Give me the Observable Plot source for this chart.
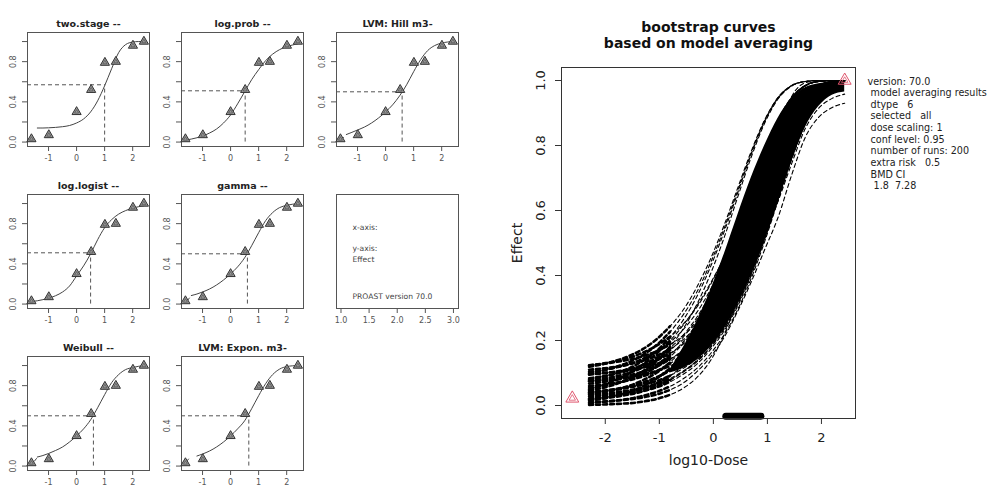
<!DOCTYPE html>
<html><head><meta charset="utf-8">
<script src="https://cdn.jsdelivr.net/npm/d3@7"></script>
<script src="https://cdn.jsdelivr.net/npm/@observablehq/plot@0.6"></script>
<style>
body{margin:0;background:#fff;}
#root{position:relative;width:990px;height:487px;overflow:hidden;background:#fff;}
#root svg{position:absolute;overflow:visible;}
</style></head><body><div id="root"></div>
<script>
// ---------- small panels: data ----------
const doseLog = [-1.61, -0.99, 0, 0.52, 1.01, 1.40, 2.01, 2.40];
const effect  = [0.03, 0.07, 0.30, 0.52, 0.79, 0.80, 0.96, 1.0];
const modelNames = ["two.stage --", "log.prob --", "LVM: Hill m3-", "log.logist --", "gamma --", "Weibull --", "LVM: Expon. m3-"];
const curveX = [-1.6, -1.4, -1.2, -1, -0.75, -0.5, -0.25, 0, 0.25, 0.5, 0.75, 1, 1.25, 1.5, 1.75, 2, 2.2, 2.4];
const fitTwoStage = [null, 0.14, 0.14, 0.142, 0.146, 0.153, 0.165, 0.19, 0.23, 0.30, 0.41, 0.56, 0.73, 0.89, 0.97, 0.995, 1.0, 1.0];
const fitLogProb  = [0.02, 0.03, 0.043, 0.06, 0.09, 0.13, 0.19, 0.27, 0.38, 0.5, 0.62, 0.72, 0.81, 0.875, 0.92, 0.95, 0.965, 0.978];
const fitHill     = [null, 0.075, 0.097, 0.12, 0.15, 0.19, 0.24, 0.30, 0.37, 0.46, 0.57, 0.70, 0.82, 0.91, 0.96, 0.985, 0.995, 1.0];
const fitLogLogist= [0.025, 0.033, 0.044, 0.058, 0.083, 0.12, 0.18, 0.28, 0.38, 0.5, 0.64, 0.76, 0.84, 0.895, 0.93, 0.955, 0.968, 0.978];
const fitGamma    = [null, 0.085, 0.1, 0.12, 0.15, 0.19, 0.24, 0.30, 0.37, 0.46, 0.58, 0.71, 0.83, 0.91, 0.96, 0.982, 0.993, 0.998];
const fitWeibull  = [null, 0.09, 0.105, 0.125, 0.155, 0.19, 0.24, 0.30, 0.37, 0.46, 0.58, 0.71, 0.83, 0.91, 0.96, 0.98, 0.992, 0.998];
const fitExpon    = [null, null, 0.1, 0.12, 0.15, 0.19, 0.24, 0.30, 0.37, 0.45, 0.57, 0.70, 0.82, 0.91, 0.965, 0.99, 0.997, 1.0];
const modelFits = [fitTwoStage, fitLogProb, fitHill, fitLogLogist, fitGamma, fitWeibull, fitExpon];
const leadX = [null, null, [-1.6, -1.5], null, [-1.55, -1.47], [-1.5, -1.43], [-1.62, -1.5]];
const leadY = [null, null, [0.02, 0.045], null, [0.03, 0.06], [0.05, 0.075], [0.03, 0.07]];
const bmdX = [1.0, 0.52, 0.59, 0.5, 0.6, 0.6, 0.65];
const bmdY = [0.57, 0.51, 0.5, 0.51, 0.5, 0.5, 0.5];
const smallXTicks = [-1, 0, 1, 2];
const smallYTicks = [0, 0.2, 0.4, 0.6, 0.8, 1.0];
const smallYLabels = [0, 0.4, 0.8];
const textPanelTicks = [1.0, 1.5, 2.0, 2.5, 3.0];
const textPanelLines = ["x-axis:", "y-axis:", "Effect", "PROAST version 70.0"];

// ---------- bootstrap plot: data ----------
const bootX = [-2.3,-2.05,-1.8,-1.55,-1.3,-1.05,-0.8,-0.55,-0.3,-0.05,0.2,0.45,0.7,0.95,1.2,1.45,1.7,1.95,2.2,2.43];
const bootA = [0.119,0.127,0.138,0.153,0.174,0.204,0.244,0.296,0.366,0.452,0.555,0.669,0.782,0.879,0.949,0.985,0.997,1,1,1];
const bootB = [0.123,0.129,0.136,0.147,0.163,0.184,0.212,0.252,0.304,0.373,0.458,0.559,0.672,0.785,0.881,0.949,0.985,0.997,1,1];
const bootC = [0.100,0.107,0.119,0.134,0.156,0.186,0.227,0.281,0.351,0.440,0.545,0.661,0.777,0.877,0.948,0.984,0.997,1,1,1];
const bootD = [0.104,0.109,0.117,0.128,0.144,0.165,0.195,0.235,0.288,0.358,0.446,0.550,0.665,0.780,0.878,0.948,0.985,0.997,1,1];
const bootE = [0.080,0.088,0.099,0.115,0.138,0.168,0.210,0.265,0.337,0.428,0.535,0.654,0.773,0.874,0.946,0.984,0.997,1,1,1];
const bootF = [0.084,0.090,0.098,0.109,0.125,0.147,0.177,0.218,0.273,0.344,0.434,0.540,0.658,0.775,0.875,0.947,0.984,0.997,1,1];
const bootG = [0.060,0.064,0.070,0.078,0.090,0.106,0.129,0.159,0.202,0.257,0.330,0.421,0.530,0.650,0.770,0.873,0.946,0.984,0.997,1];
const bootH = [0.054,0.060,0.069,0.080,0.097,0.119,0.150,0.193,0.249,0.323,0.415,0.525,0.647,0.768,0.871,0.945,0.984,0.997,1,1];
const bootI = [0.040,0.045,0.051,0.059,0.071,0.087,0.110,0.142,0.185,0.241,0.316,0.409,0.520,0.643,0.765,0.870,0.945,0.984,0.997,1];
const bootJ = [0.035,0.041,0.049,0.061,0.078,0.101,0.133,0.176,0.234,0.309,0.403,0.515,0.639,0.763,0.869,0.944,0.983,0.997,1,1];
const bootK = [0.020,0.025,0.031,0.039,0.051,0.068,0.092,0.124,0.168,0.226,0.302,0.397,0.510,0.636,0.760,0.867,0.944,0.983,0.997,1];
const bootL = [0.007,0.011,0.015,0.021,0.030,0.042,0.059,0.083,0.115,0.160,0.218,0.295,0.391,0.505,0.632,0.758,0.866,0.943,0.983,0.997];
const bootM = [0.002,0.003,0.005,0.007,0.012,0.020,0.033,0.054,0.087,0.139,0.218,0.334,0.489,0.669,0.838,0.951,0.993,1,1,1];
const bootN = [0.049,0.062,0.079,0.100,0.127,0.160,0.200,0.249,0.308,0.377,0.455,0.541,0.632,0.723,0.808,0.880,0.934,0.970,0.989,0.997];
const bootP = [0.022,0.025,0.030,0.036,0.045,0.056,0.073,0.097,0.128,0.173,0.230,0.306,0.400,0.512,0.637,0.762,0.868,0.944,0.983,0.997];
const bootQ = [0.042,0.045,0.049,0.056,0.064,0.075,0.092,0.115,0.146,0.189,0.245,0.320,0.412,0.522,0.645,0.766,0.871,0.945,0.984,0.997];
const bootR = [0.110,0.114,0.119,0.127,0.138,0.153,0.174,0.204,0.244,0.296,0.366,0.452,0.555,0.669,0.782,0.879,0.949,0.985,0.997,1];
const bootS = [0.075,0.079,0.085,0.093,0.104,0.120,0.142,0.173,0.214,0.269,0.341,0.431,0.537,0.656,0.774,0.875,0.947,0.984,0.997,1];
const bootT = [0.046,0.054,0.066,0.083,0.106,0.137,0.181,0.238,0.313,0.406,0.517,0.641,0.764,0.869,0.944,0.983,0.997,1,1,1];
const bootU = [0.015,0.021,0.030,0.042,0.059,0.083,0.115,0.160,0.218,0.295,0.391,0.505,0.632,0.758,0.866,0.943,0.983,0.997,1,1];
const bootV = [0.097,0.100,0.104,0.109,0.117,0.128,0.144,0.165,0.195,0.235,0.288,0.358,0.446,0.550,0.665,0.780,0.878,0.948,0.985,0.997];
const bootW = [0.124,0.128,0.134,0.141,0.152,0.167,0.188,0.217,0.256,0.308,0.376,0.461,0.562,0.674,0.786,0.881,0.950,0.985,0.997,1];
const bootX1 = [0.038,0.043,0.049,0.057,0.069,0.085,0.108,0.140,0.183,0.240,0.315,0.408,0.519,0.642,0.765,0.870,0.945,0.984,0.997,1];
const bootX2 = [0.074,0.077,0.081,0.087,0.095,0.106,0.122,0.144,0.174,0.216,0.270,0.342,0.432,0.538,0.657,0.774,0.875,0.947,0.984,0.997];
const bootX3 = [0.095,0.099,0.104,0.112,0.123,0.139,0.161,0.190,0.231,0.284,0.355,0.443,0.547,0.663,0.779,0.877,0.948,0.984,0.997,1];
const bootX4 = [0.033,0.036,0.041,0.047,0.055,0.067,0.083,0.107,0.138,0.181,0.238,0.313,0.407,0.518,0.641,0.764,0.869,0.944,0.983,0.997];
const bootX5 = [0.076,0.082,0.090,0.101,0.117,0.140,0.170,0.212,0.266,0.339,0.429,0.536,0.655,0.773,0.874,0.946,0.984,0.997,1,1];
const bootX6 = [0.028,0.031,0.036,0.042,0.051,0.063,0.080,0.104,0.135,0.179,0.236,0.311,0.405,0.516,0.640,0.763,0.869,0.944,0.983,0.997];
const bootX7 = [0.067,0.072,0.079,0.089,0.104,0.125,0.156,0.198,0.254,0.327,0.418,0.527,0.648,0.769,0.872,0.946,0.984,0.997,1,1];
const bootO1 = [0.010,0.012,0.015,0.019,0.025,0.034,0.048,0.070,0.105,0.150,0.210,0.290,0.380,0.480,0.580,0.710,0.825,0.887,0.917,0.930];
const bootO2 = [0.018,0.022,0.027,0.034,0.044,0.058,0.078,0.105,0.140,0.190,0.255,0.335,0.425,0.525,0.630,0.745,0.852,0.915,0.945,0.958];
const bootCurves = [bootA,bootB,bootC,bootD,bootE,bootF,bootG,bootH,bootI,bootJ,bootK,bootL,bootM,bootN,bootP,bootQ,bootR,bootS,bootT,bootU,bootV,bootW,bootX1,bootX2,bootX3,bootX4,bootX5,bootX6,bootX7,bootO1,bootO2];
const coreX     = [-0.8,-0.55,-0.3,-0.05,0.2,0.45,0.7,0.95,1.2,1.45,1.7,1.95,2.2,2.43];
const coreUpper = [0.11,0.18,0.26,0.355,0.465,0.585,0.70,0.80,0.885,0.945,0.978,0.99,0.995,0.997];
const coreLower = [0.10,0.115,0.14,0.18,0.235,0.31,0.40,0.505,0.625,0.75,0.855,0.92,0.955,0.965];
const obsX = [-2.61, 2.43];
const obsY = [0.022, 1.0];
const bmdCIX = [0.23, 0.88];
const bmdCIY = [-0.033, -0.033];
const bigXTicks = [-2, -1, 0, 1, 2];
const bigYTicks = [0, 0.2, 0.4, 0.6, 0.8, 1.0];
const bigTitle = ["bootstrap curves", "based on model averaging"];
const infoLines = ["version: 70.0", " model averaging results", " dtype   6", " selected   all", " dose scaling: 1", " conf level: 0.95", " number of runs: 200", " extra risk   0.5", " BMD CI", "  1.8  7.28"];

// ---------- drawing ----------
const root = document.getElementById("root");
const FONT = "DejaVu Sans, sans-serif";
function place(el, left, top) { el.style.left = left + "px"; el.style.top = top + "px"; root.appendChild(el); }
const intFmt = d => String(d);

const PW = 154, PH = 162;
const colLeft = [0, 154, 309];
const rowTop = [0, 162, 324];
const panelPos = [[0,0],[1,0],[2,0],[0,1],[1,1],[0,2],[1,2]];
const sxDomain = [-1.75, 2.6];
const syDomain = [-0.044, 1.09];
const smallMargins = {marginLeft: 27, marginRight: 5, marginTop: 32, marginBottom: 16};
const pts = doseLog.map((x, i) => ({x, y: effect[i]}));

function smallAxes() {
  return [
    Plot.frame({stroke: "#555"}),
    Plot.axisX({ticks: smallXTicks, tickFormat: intFmt, tickSize: 5, tickPadding: 4, label: null, fontSize: 8, stroke: "#555"}),
    Plot.axisY({ticks: smallYTicks, tickSize: 5, tickFormat: () => "", label: null, stroke: "#555"}),
    Plot.text(smallYLabels, {y: d => d, text: d => d.toFixed(1), frameAnchor: "left", dx: -14.5, rotate: -90, textAnchor: "middle", lineAnchor: "middle", fontSize: 8, fill: "#555"})
  ];
}

modelNames.forEach((name, k) => {
  const fit = curveX.map((x, i) => ({x, y: modelFits[k][i]}));
  const lead = leadX[k] ? leadX[k].map((x, i) => ({x, y: leadY[k][i]})) : [];
  const svg = Plot.plot({
    width: PW, height: PH, ...smallMargins,
    x: {domain: sxDomain}, y: {domain: syDomain},
    style: {fontFamily: FONT, fontSize: "8px", color: "#555", background: "none"},
    marks: [
      ...smallAxes(),
      Plot.ruleY([bmdY[k]], {x1: sxDomain[0], x2: bmdX[k], stroke: "#555", strokeDasharray: "4,3"}),
      Plot.ruleX([bmdX[k]], {y1: 0, y2: bmdY[k], stroke: "#555", strokeDasharray: "4,3"}),
      Plot.line(fit, {x: "x", y: "y", stroke: "#444", strokeWidth: 1, curve: "monotone-x"}),
      Plot.line(lead, {x: "x", y: "y", stroke: "#444", strokeWidth: 1}),
      Plot.dot(pts, {x: "x", y: "y", symbol: "triangle", r: 3.4, fill: "#9a9a9a", stroke: "#333", strokeWidth: 1}),
      Plot.dot(pts, {x: "x", y: "y", symbol: "triangle", r: 1.5, fill: "none", stroke: "#444", strokeWidth: 0.6}),
      Plot.text([name], {text: d => d, frameAnchor: "top", dy: -12, fontWeight: "bold", fontSize: 9.5, fill: "#222"})
    ]
  });
  place(svg, colLeft[panelPos[k][0]], rowTop[panelPos[k][1]]);
});

// text panel
{
  const dys = [30.5, 51.5, 62.5, 99];
  const svg = Plot.plot({
    width: PW, height: PH, ...smallMargins,
    x: {domain: [0.92, 3.09]},
    style: {fontFamily: FONT, fontSize: "8px", color: "#555", background: "none"},
    marks: [
      Plot.frame({stroke: "#555"}),
      Plot.axisX({ticks: textPanelTicks, tickFormat: d => d.toFixed(1), tickSize: 5, tickPadding: 4, label: null, fontSize: 8, stroke: "#555"}),
      ...textPanelLines.map((t, i) => Plot.text([t], {text: d => d, frameAnchor: "top-left", dx: 16, dy: dys[i], textAnchor: "start", fontSize: 7.6, fill: "#444"}))
    ]
  });
  place(svg, colLeft[2], rowTop[1]);
}

// bootstrap plot
{
  const core = coreX.map((x, i) => ({x, lo: coreLower[i], hi: coreUpper[i]}));
  const obs = obsX.map((x, i) => ({x, y: obsY[i]}));
  const ci = bmdCIX.map((x, i) => ({x, y: bmdCIY[i]}));
  const lowPart = 7; // dense striped low-dose stretch of each curve
  const dash = "4,3";
  const svg = Plot.plot({
    width: 490, height: 487, marginLeft: 61, marginRight: 135, marginTop: 67, marginBottom: 69,
    x: {domain: [-2.81, 2.63]}, y: {domain: [-0.04, 1.04]},
    style: {fontFamily: FONT, fontSize: "13px", color: "#222", background: "none"},
    marks: [
      Plot.areaY(core, {x: "x", y1: "lo", y2: "hi", fill: "#000", curve: "monotone-x"}),
      ...bootCurves.map(c => Plot.line(bootX.slice(0, lowPart).map((x, i) => ({x, y: c[i]})), {x: "x", y: "y", stroke: "#000", strokeWidth: 2.6, strokeDasharray: dash, curve: "monotone-x"})),
      ...bootCurves.map(c => Plot.line(bootX.map((x, i) => ({x, y: c[i]})), {x: "x", y: "y", stroke: "#000", strokeWidth: 1.1, strokeDasharray: dash, curve: "monotone-x"})),
      Plot.line(ci, {x: "x", y: "y", stroke: "#000", strokeWidth: 7, strokeLinecap: "round"}),
      Plot.dot(obs, {x: "x", y: "y", symbol: "triangle", r: 4.8, fill: "none", stroke: "#DF536B", strokeWidth: 1}),
      Plot.dot(obs, {x: "x", y: "y", symbol: "triangle", r: 2.4, fill: "none", stroke: "#DF536B", strokeWidth: 0.8}),
      Plot.frame({stroke: "#333"}),
      Plot.axisX({ticks: bigXTicks, tickFormat: intFmt, tickSize: 6, tickPadding: 8, label: null, fontSize: 13, stroke: "#333"}),
      Plot.axisY({ticks: bigYTicks, tickSize: 6, tickFormat: () => "", label: null, stroke: "#333"}),
      Plot.text(bigYTicks, {y: d => d, text: d => d.toFixed(1), frameAnchor: "left", dx: -20.5, rotate: -90, textAnchor: "middle", lineAnchor: "middle", fontSize: 13, fill: "#222"}),
      Plot.text(["log10-Dose"], {text: d => d, frameAnchor: "bottom", dy: 37, lineAnchor: "top", fontSize: 14, fill: "#222"}),
      Plot.text(["Effect"], {text: d => d, frameAnchor: "left", dx: -44, rotate: -90, textAnchor: "middle", lineAnchor: "middle", fontSize: 14, fill: "#222"}),
      Plot.text([bigTitle.join("\n")], {text: d => d, frameAnchor: "top", dy: -47.6, lineAnchor: "top", lineHeight: 1.17, fontWeight: "bold", fontSize: 14, fill: "#111"}),
      Plot.text([infoLines.map(s => s.replace(/ /g, "\u00a0")).join("\n")], {text: d => d, frameAnchor: "top-right", dx: 12, dy: 8.9, textAnchor: "start", lineAnchor: "top", lineHeight: 1.21, fontSize: 9.6, fill: "#222"})
    ]
  });
  place(svg, 500, 0);
}
</script>
</body></html>
